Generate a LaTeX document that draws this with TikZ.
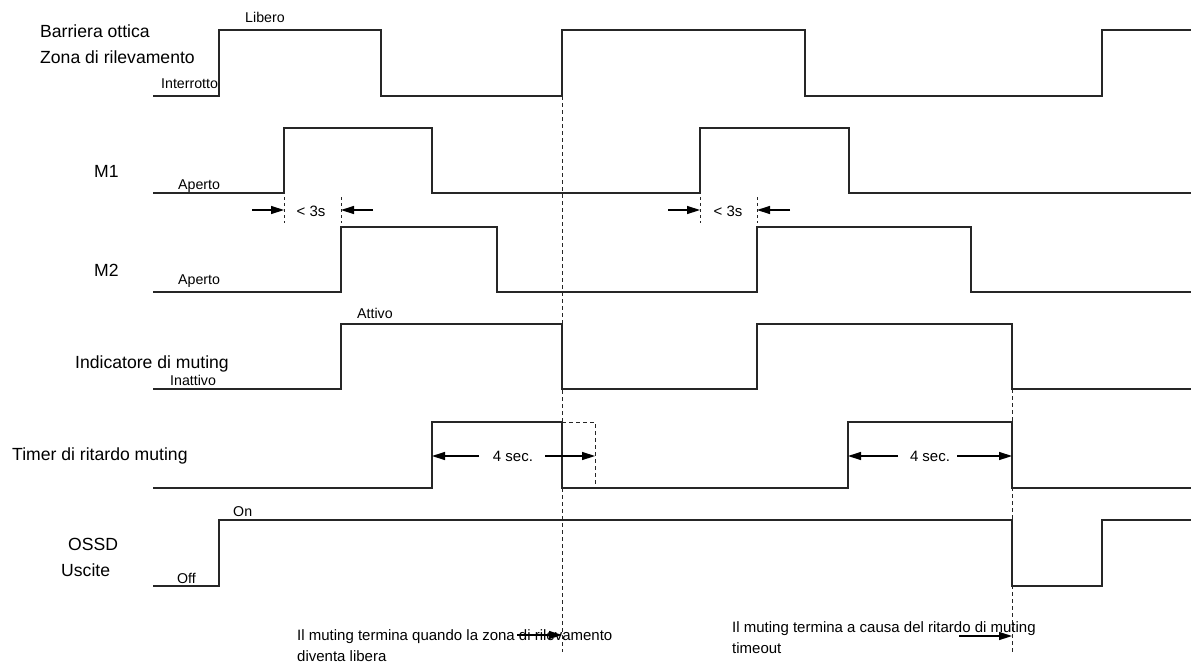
\documentclass[tikz,border=0pt]{standalone}
\usepackage{fontspec}
\setmainfont{Liberation Sans}
\usetikzlibrary{arrows.meta}
\begin{document}
\begin{tikzpicture}[x=1pt,y=-1pt,
  sig/.style={line width=1.3pt, line join=miter, draw=black!85},
  guide/.style={line width=1pt, draw=black!85, dash pattern=on 4pt off 3pt},
  marker/.style={line width=1pt, draw=black!85, dash pattern=on 3pt off 3pt},
  dimarrow/.style={line width=1.4pt, draw=black, -{Triangle[length=13pt,width=8pt]}},
  rowname/.style={font=\fontsize{17.6}{20}\selectfont, inner sep=0pt, anchor=base west},
  state/.style={font=\fontsize{14.2}{16}\selectfont, inner sep=0pt, anchor=base west},
  dimtext/.style={font=\fontsize{15}{18}\selectfont, inner sep=0pt, anchor=base},
  note/.style={font=\fontsize{15}{18}\selectfont, inner sep=0pt, anchor=base west}]
\useasboundingbox (0,0) rectangle (1191,664);

% ---- row names ----
\node[rowname] (barr)  at (40,37)  {Barriera ottica};
\node[rowname] (zona)  at (40,63)  {Zona di rilevamento};
\node[rowname] (m1)    at (94,177) {M1};
\node[rowname] (m2)    at (94,276) {M2};
\node[rowname] (ind)   at (75,368) {Indicatore di muting};
\node[rowname] (timer) at (12,460) {Timer di ritardo muting};
\node[rowname] (ossd)  at (68,550) {OSSD};
\node[rowname] (usc)   at (61,576) {Uscite};

% ---- state labels ----
\node[state] (libero)   at (245,22)  {Libero};
\node[state] (interr)   at (161,88)  {Interrotto};
\node[state] (ap1)      at (178,189) {Aperto};
\node[state] (ap2)      at (178,284) {Aperto};
\node[state] (attivo)   at (357,318) {Attivo};
\node[state] (inatt)    at (170,385) {Inattivo};
\node[state] (on)       at (233,516) {On};
\node[state] (off)      at (177,583) {Off};

% ---- waveforms ----
\draw[sig] (153,96) -| (219,30) -| (381,96) -| (562,30) -| (805,96) -| (1102,30) -- (1191,30);
\draw[sig] (153,193) -| (284,128) -| (432,193) -| (700,128) -| (849,193) -- (1191,193);
\draw[sig] (153,292) -| (341,227) -| (497,292) -| (757,227) -| (971,292) -- (1191,292);
\draw[sig] (153,389) -| (341,324) -| (562,389) -| (757,324) -| (1012,389) -- (1191,389);
\draw[sig] (153,488) -| (432,422) -| (562,488) -| (848,422) -| (1012,488) -- (1191,488);
\draw[sig] (153,586) -| (219,520) -| (1012,586) -| (1102,520) -- (1191,520);

% nominal end of the first delay (dashed)
\draw[guide] (562,422) -| (595,488);

% ---- vertical guides ----
\coordinate (g1top) at (562,96);
\coordinate (g1bot) at (562,652);
\coordinate (g2top) at (1012,389);
\coordinate (g2bot) at (1012,652);
\draw[guide] (g1top) -- (g1bot);
\draw[guide] (g2top) -- (g2bot);

% ---- M1 -> M2 window (< 3s) ----
\foreach \x/\n in {284/a,341/b,700/c,757/d}{
  \coordinate (mk\n top) at (\x,197);
  \coordinate (mk\n bot) at (\x,223);
  \coordinate (mk\n) at (\x,210);
  \draw[marker] (mk\n top) -- (mk\n bot);
}
\coordinate (wa) at (252,210);
\coordinate (wb) at (373,210);
\coordinate (wc) at (668,210);
\coordinate (wd) at (790,210);
\draw[dimarrow] (wa) -- (mka);
\draw[dimarrow] (wb) -- (mkb);
\draw[dimarrow] (wc) -- (mkc);
\draw[dimarrow] (wd) -- (mkd);
\node[dimtext] (w1) at (311,216) {< 3s};
\node[dimtext] (w2) at (728,216) {< 3s};

% ---- muting delay (4 sec.) ----
\coordinate (t1s) at (432,456);
\coordinate (t1e) at (595,456);
\coordinate (t2s) at (848,456);
\coordinate (t2e) at (1012,456);
\coordinate (t1l) at (479,456);
\coordinate (t1r) at (545,456);
\coordinate (t2l) at (898,456);
\coordinate (t2r) at (957,456);
\draw[dimarrow] (t1l) -- (t1s);
\draw[dimarrow] (t1r) -- (t1e);
\draw[dimarrow] (t2l) -- (t2s);
\draw[dimarrow] (t2r) -- (t2e);
\node[dimtext] (d1) at (513,461) {4 sec.};
\node[dimtext] (d2) at (930,461) {4 sec.};

% ---- notes ----
\node[note] (n1a) at (297,640) {Il muting termina quando la zona di rilevamento};
\node[note] (n1b) at (297,661) {diventa libera};
\node[note] (n2a) at (732,632) {Il muting termina a causa del ritardo di muting};
\node[note] (n2b) at (732,653) {timeout};
\coordinate (n1from) at (517,635);
\coordinate (n1to)   at (562,635);
\coordinate (n2from) at (959,636);
\coordinate (n2to)   at (1012,636);
\draw[dimarrow] (n1from) -- (n1to);
\draw[dimarrow] (n2from) -- (n2to);
\end{tikzpicture}
\end{document}
